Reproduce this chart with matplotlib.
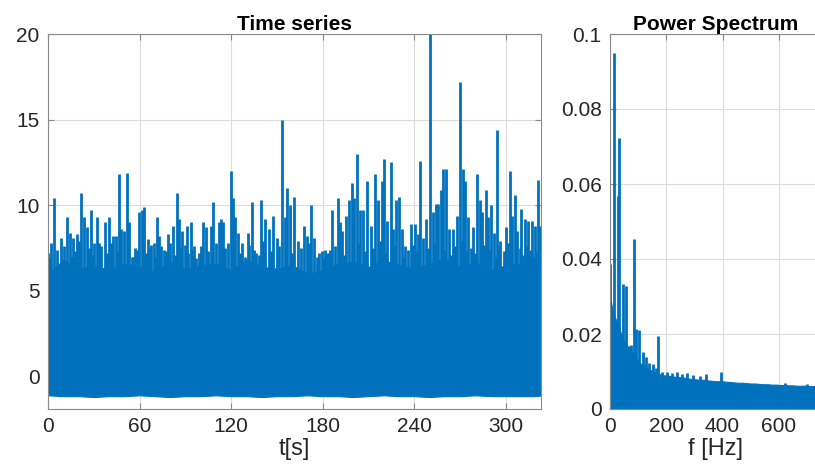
import matplotlib
matplotlib.use("Agg")
from matplotlib import pyplot as plt

# --- time series: dense body envelope (every 10 s) ---
band_t = [0, 10, 20, 30, 40, 50, 60, 70, 80, 90, 100, 110, 120, 130, 140, 150, 160,
          170, 180, 190, 200, 210, 220, 230, 240, 250, 260, 270, 280, 290, 300, 310, 320, 323]
band_hi = [6.0, 6.8, 6.3, 6.5, 6.2, 6.6, 6.4, 6.1, 6.7, 6.3, 6.5, 6.6, 6.2, 6.8, 6.4, 6.3, 6.5,
           6.0, 6.2, 6.6, 6.7, 6.4, 6.8, 6.5, 6.3, 6.6, 6.9, 6.4, 6.7, 6.2, 6.5, 6.6, 6.4, 5.5]
band_lo = [-1.1, -1.15, -1.15, -1.2, -1.15, -1.15, -1.1, -1.15, -1.2, -1.15, -1.15, -1.1, -1.15,
           -1.15, -1.2, -1.15, -1.15, -1.1, -1.15, -1.15, -1.2, -1.15, -1.1, -1.15, -1.15, -1.2,
           -1.15, -1.15, -1.1, -1.15, -1.15, -1.15, -1.15, -1.1]

# --- time series: tall spikes ---
peak_t = [0.2, 1.8, 3.9, 8.3, 12.2, 14.4, 16.6, 19.2, 21.8, 23.6, 25.8, 28.0, 30.1, 32.3,
          33.6, 37.3, 40.0, 42.8, 44.5, 46.5, 47.9, 49.6, 51.5, 53.3, 54.8, 57.2, 59.6, 61.3,
          63.1, 65.8, 67.7, 69.4, 71.2, 72.8, 75.8, 78.8, 81.6, 84.3, 86.1, 88.0, 90.8, 93.4,
          95.6, 99.0, 101.7, 103.8, 106.5, 108.3, 111.8, 113.1, 114.6, 118.0, 119.8, 121.0,
          122.5, 124.5, 127.0, 130.8, 133.4, 136.4, 139.5, 142.2, 144.7, 147.3, 149.8, 153.0,
          155.6, 156.5, 158.7, 161.3, 163.6, 167.4, 169.6, 172.2, 174.4, 177.4, 179.2, 181.8,
          184.0, 186.2, 189.7, 191.2, 192.7, 195.5, 197.1, 198.9, 200.4, 202.6, 204.5, 206.5,
          209.1, 211.5, 214.1, 216.3, 218.5, 220.3, 222.3, 224.6, 226.1, 228.3, 230.0, 232.0,
          234.1, 237.5, 240.4, 242.6, 244.0, 245.7, 247.5, 250.4, 252.3, 254.1, 255.8, 257.2,
          258.9, 261.0, 262.9, 265.5, 268.1, 269.8, 271.6, 273.3, 275.3, 278.5, 281.1, 282.9,
          284.4, 286.8, 288.5, 290.5, 292.2, 294.2, 296.4, 300.3, 302.6, 304.3, 305.8, 307.4,
          310.2, 312.4, 314.6, 316.8, 319.0, 321.1, 322.6]
peak_y = [7.2, 7.8, 10.4, 8.1, 9.3, 8.4, 8.1, 8.3, 10.7, 9.3, 8.7, 9.7, 7.8, 9.3,
          7.8, 9.0, 9.3, 8.2, 8.2, 11.8, 8.6, 8.5, 11.9, 9.0, 7.0, 7.5, 9.6, 9.7,
          9.9, 8.0, 7.7, 7.8, 9.3, 8.2, 7.4, 8.3, 8.8, 10.7, 9.2, 8.5, 8.8, 9.0,
          7.6, 7.2, 9.0, 8.7, 8.8, 10.2, 9.0, 9.2, 9.0, 7.8, 12.0, 10.4,
          9.3, 8.4, 7.8, 8.4, 10.2, 7.2, 10.3, 9.2, 8.6, 9.35, 8.1, 15.0,
          9.3, 11.0, 10.0, 10.5, 7.9, 8.8, 8.2, 10.0, 8.1, 7.2, 7.3, 7.4,
          7.2, 9.7, 10.4, 9.0, 8.5, 9.4, 10.3, 11.3, 10.4, 13.0, 9.7, 9.7,
          11.4, 8.8, 11.8, 10.3, 11.4, 12.7, 9.1, 12.5, 8.6, 10.3, 10.5, 8.6,
          7.6, 8.9, 8.9, 8.3, 12.6, 8.1, 9.2, 20.5, 9.6, 10.1, 10.1, 10.9,
          12.1, 12.1, 8.6, 8.6, 9.4, 17.2, 12.1, 11.4, 9.3, 8.7, 11.8, 10.3,
          9.6, 10.9, 9.3, 10.0, 8.4, 14.4, 7.9, 8.7, 12.0, 9.4, 10.6, 8.5,
          9.8, 9.2, 9.1, 9.1, 8.8, 11.5, 8.8]

# --- time series: smaller spikes on the ragged top of the body ---
minor_t = [1.0, 6.0, 10.5, 15.5, 18.0, 20.5, 27.0, 29.0, 35.0, 38.5,
           41.5, 45.5, 52.5, 56.0, 58.5, 62.0, 64.5, 66.8, 70.3, 74.0,
           77.0, 80.0, 83.0, 87.0, 89.5, 92.0, 94.5, 97.0, 100.5, 105.0,
           110.0, 116.0, 126.0, 129.0, 132.0, 135.0, 138.0, 141.0, 146.0, 151.5,
           160.0, 165.5, 171.0, 176.0, 180.5, 183.0, 185.0, 188.0, 194.0, 203.5,
           208.0, 213.0, 217.5, 221.5, 227.2, 233.0, 236.0, 239.0, 241.5, 249.0,
           253.2, 260.0, 264.0, 266.8, 270.8, 274.5, 277.0, 280.0, 285.5, 289.5,
           293.3, 295.3, 298.5, 301.5, 306.6, 309.0, 311.3, 313.5, 315.7, 318.0,
           320.0]
minor_y = [6.9, 7.4, 7.6, 7.0, 7.3, 7.9, 7.5, 7.1, 7.6, 7.2,
           7.8, 7.3, 7.7, 7.0, 7.4, 7.9, 7.2, 7.5, 7.0, 7.6,
           7.3, 7.8, 7.1, 7.5, 7.7, 7.2, 7.4, 6.9, 7.6, 7.3,
           7.8, 7.5, 7.2, 7.0, 7.7, 7.4, 7.1, 7.9, 7.3, 7.6,
           7.2, 7.5, 7.8, 7.0, 6.9, 7.2, 7.4, 7.6, 7.1, 7.8,
           7.3, 7.5, 7.9, 7.2, 7.6, 7.0, 7.4, 7.7, 7.3, 7.5,
           7.8, 7.4, 7.1, 7.6, 7.9, 7.3, 7.5, 7.2, 7.7, 7.4,
           7.0, 7.6, 7.3, 7.8, 7.2, 7.5, 7.1, 7.6, 7.4, 7.0,
           7.3]

# --- power spectrum: dense body envelope ---
spec_f = [0, 5, 10, 20, 30, 40, 50, 60, 70, 80, 90, 100, 110, 120, 130, 140, 150, 160, 170,
          180, 190, 200, 215, 230, 245, 260, 275, 290, 305, 320, 335, 350, 365, 380, 395, 410,
          425, 440, 455, 470, 485, 500, 515, 530, 545, 560, 575, 590, 605, 620, 635, 650, 665,
          680, 695, 710, 725, 740, 750]
spec_env = [0.030, 0.028, 0.026, 0.024, 0.022, 0.020, 0.018, 0.017, 0.016, 0.015, 0.014,
            0.013, 0.012, 0.0118, 0.011, 0.0105, 0.0102, 0.0098, 0.0095, 0.0092, 0.0090,
            0.0089, 0.0088, 0.0086, 0.0085, 0.0084, 0.0082, 0.0080, 0.0079, 0.0078, 0.0078,
            0.0076, 0.0075, 0.0074, 0.0074, 0.0073, 0.0072, 0.0071, 0.0070, 0.0070, 0.0069,
            0.0068, 0.0068, 0.0067, 0.0066, 0.0066, 0.0065, 0.0065, 0.0064, 0.0064, 0.0063,
            0.0063, 0.0062, 0.0062, 0.0062, 0.0061, 0.0061, 0.0060, 0.0060]

# --- power spectrum: spikes ---
spk_f = [0, 3, 14, 24, 27, 33, 45, 50, 57, 66, 73, 86, 94, 104, 116, 128, 140, 154, 164,
         171, 184, 201, 219, 237, 255, 272, 296, 320, 343, 396, 621, 700]
spk_p = [0.0387, 0.027, 0.0949, 0.0227, 0.0569, 0.0722, 0.0333, 0.0155, 0.0328, 0.0169,
         0.0170, 0.0453, 0.0213, 0.0210, 0.0152, 0.0139, 0.0123, 0.0121, 0.0110, 0.0194,
         0.0100, 0.0100, 0.0096, 0.0099, 0.0093, 0.0096, 0.0090, 0.0087, 0.0093, 0.0098,
         0.0070, 0.0068]

ts_xticks = [0, 60, 120, 180, 240, 300]
ts_yticks = [0, 5, 10, 15, 20]
ps_xticks = [0, 200, 400, 600]
ps_yticks = [0, 0.02, 0.04, 0.06, 0.08, 0.1]
ps_ylabels = ["0", "0.02", "0.04", "0.06", "0.08", "0.1"]

BLUE = "#0072BD"
TXT = "#262626"


def style_axes(ax):
    ax.grid(True, color="#dcdcdc", linewidth=0.8)
    ax.set_axisbelow(True)
    for s in ax.spines.values():
        s.set_color("#8a8a8a")
        s.set_linewidth(0.8)
    ax.tick_params(direction="in", top=True, right=True, length=4, width=0.8,
                   color="#8a8a8a", labelsize=15, labelcolor=TXT, pad=6)


def main():
    plt.rcParams["font.family"] = ["Liberation Sans", "DejaVu Sans"]
    fig = plt.figure(figsize=(8.15, 4.75), dpi=100)

    ax1 = fig.add_axes([48 / 815, 66 / 475, 493 / 815, 375 / 475])
    ax1.fill_between(band_t, band_lo, band_hi, color=BLUE, linewidth=0.8, edgecolor=BLUE)
    ax1.vlines(minor_t, 0, minor_y, color=BLUE, linewidth=2.0)
    ax1.vlines(peak_t, 0, peak_y, color=BLUE, linewidth=2.0)
    ax1.set_xlim(0, 323)
    ax1.set_ylim(-1.9, 20)
    ax1.set_xticks(ts_xticks)
    ax1.set_yticks(ts_yticks)
    style_axes(ax1)
    ax1.set_title("Time series", fontsize=15, fontweight="bold", pad=3)
    ax1.set_xlabel("t[s]", fontsize=17, color=TXT, labelpad=1)

    ax2 = fig.add_axes([610 / 815, 66 / 475, 211 / 815, 375 / 475])
    ax2.fill_between(spec_f, 0, spec_env, color=BLUE, linewidth=0.8, edgecolor=BLUE)
    ax2.vlines(spk_f, 0, spk_p, color=BLUE, linewidth=2.0)
    ax2.set_xlim(0, 750)
    ax2.set_ylim(0, 0.1)
    ax2.set_xticks(ps_xticks)
    ax2.set_yticks(ps_yticks)
    ax2.set_yticklabels(ps_ylabels)
    style_axes(ax2)
    ax2.set_title("Power Spectrum", fontsize=15, fontweight="bold", pad=3)
    ax2.set_xlabel("f [Hz]", fontsize=17, color=TXT, labelpad=1)

    fig.savefig("out.png", dpi=100)


if __name__ == "__main__":
    main()
